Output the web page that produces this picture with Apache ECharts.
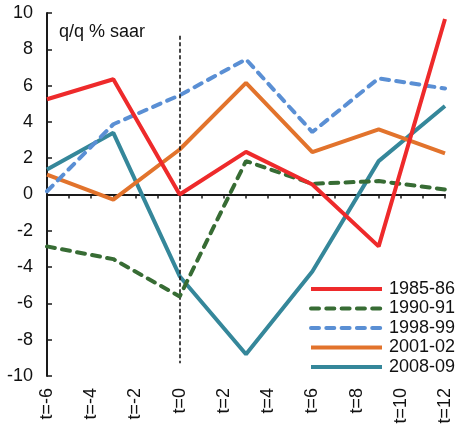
<!DOCTYPE html>
<html>
<head>
<meta charset="utf-8">
<script src="https://cdn.jsdelivr.net/npm/echarts@6/dist/echarts.min.js"></script>
<style>html,body{margin:0;padding:0;background:#fff}#c{width:455px;height:430px}</style>
</head>
<body>
<div id="c"></div>
<script>
const tPoints = [-6, -3, 0, 3, 6, 9, 12];
const seriesNames = ['1985-86', '1990-91', '1998-99', '2001-02', '2008-09'];
const v1985 = [5.25, 6.35, 0.0, 2.35, 0.55, -2.86, 9.67];
const v1990 = [-2.86, -3.56, -5.62, 1.84, 0.59, 0.74, 0.28];
const v1998 = [0.18, 3.87, 5.47, 7.45, 3.44, 6.4, 5.84];
const v2001 = [1.1, -0.28, 2.48, 6.15, 2.34, 3.59, 2.26];
const v2008 = [1.38, 3.4, -4.5, -8.8, -4.24, 1.84, 4.88];
const yTicks = [-10, -8, -6, -4, -2, 0, 2, 4, 6, 8, 10];
const xLabelTicks = [-6, -4, -2, 0, 2, 4, 6, 8, 10, 12];
const eventLine = [[0, 8.75], [0, -9.3]];

const font = 'Liberation Sans, Arial, sans-serif';
const pair = vals => tPoints.map((t, i) => [t, vals[i]]);
const styles = [
  {color: '#EE2A2B', type: 'solid', z: 6},
  {color: '#376C34', type: [8, 7.3], z: 5},
  {color: '#5A8FD4', type: [8, 7.3], z: 4},
  {color: '#E2732C', type: 'solid', z: 3},
  {color: '#35879A', type: 'solid', z: 2}
];
const values = [v1985, v1990, v1998, v2001, v2008];
const series = seriesNames.map((n, i) => ({
  name: n, type: 'line', data: pair(values[i]), symbol: 'none',
  z: styles[i].z, color: styles[i].color,
  lineStyle: {color: styles[i].color, width: 4, type: styles[i].type, cap: styles[i].type === 'solid' ? 'butt' : 'round'}
}));
series[0].markLine = {
  silent: true, symbol: ['none', 'none'], label: {show: false},
  lineStyle: {color: '#1a1a1a', width: 1.6, type: [4, 2.5]},
  data: [[{coord: eventLine[0]}, {coord: eventLine[1]}]]
};

const chart = echarts.init(document.getElementById('c'), null, {renderer: 'canvas'});
chart.setOption({
  animation: false,
  textStyle: {fontFamily: font},
  title: {text: 'q/q % saar', left: 59, top: 23, padding: 0, textStyle: {fontSize: 18, fontWeight: 'normal', color: '#111', fontFamily: font}},
  grid: {left: 47, right: 10, top: 13, bottom: 54},
  legend: {
    orient: 'vertical', left: 309, top: 280, padding: 0, itemWidth: 71, itemHeight: 14, itemGap: 1.5,
    data: seriesNames,
    textStyle: {fontSize: 18, color: '#111', fontFamily: font, padding: [0, 0, 0, 2]},
    lineStyle: {width: 4},
    itemStyle: {opacity: 0}
  },
  xAxis: [
    {type: 'value', min: -6, max: 12, interval: 1,
     axisLine: {onZero: true, lineStyle: {color: '#1a1a1a', width: 2}},
     axisTick: {show: true, length: 4, lineStyle: {color: '#1a1a1a', width: 1.5}},
     axisLabel: {show: false}, splitLine: {show: false}},
    {type: 'value', min: -6, max: 12, interval: 1, position: 'bottom',
     axisLine: {show: false, onZero: false}, axisTick: {show: false}, splitLine: {show: false},
     axisLabel: {show: true, rotate: 90, fontSize: 18, color: '#111', margin: 12, fontFamily: font,
       formatter: v => xLabelTicks.includes(v) ? 't=' + v : ''}}
  ],
  yAxis: {type: 'value', min: yTicks[0], max: yTicks[yTicks.length - 1], interval: 2,
    axisLine: {show: true, onZero: false, lineStyle: {color: '#1a1a1a', width: 2}},
    axisTick: {show: true, inside: true, length: 5, lineStyle: {color: '#1a1a1a', width: 1.5}},
    axisLabel: {fontSize: 18, color: '#111', margin: 14, fontFamily: font},
    splitLine: {show: false}},
  series: series
});
</script>
</body>
</html>
